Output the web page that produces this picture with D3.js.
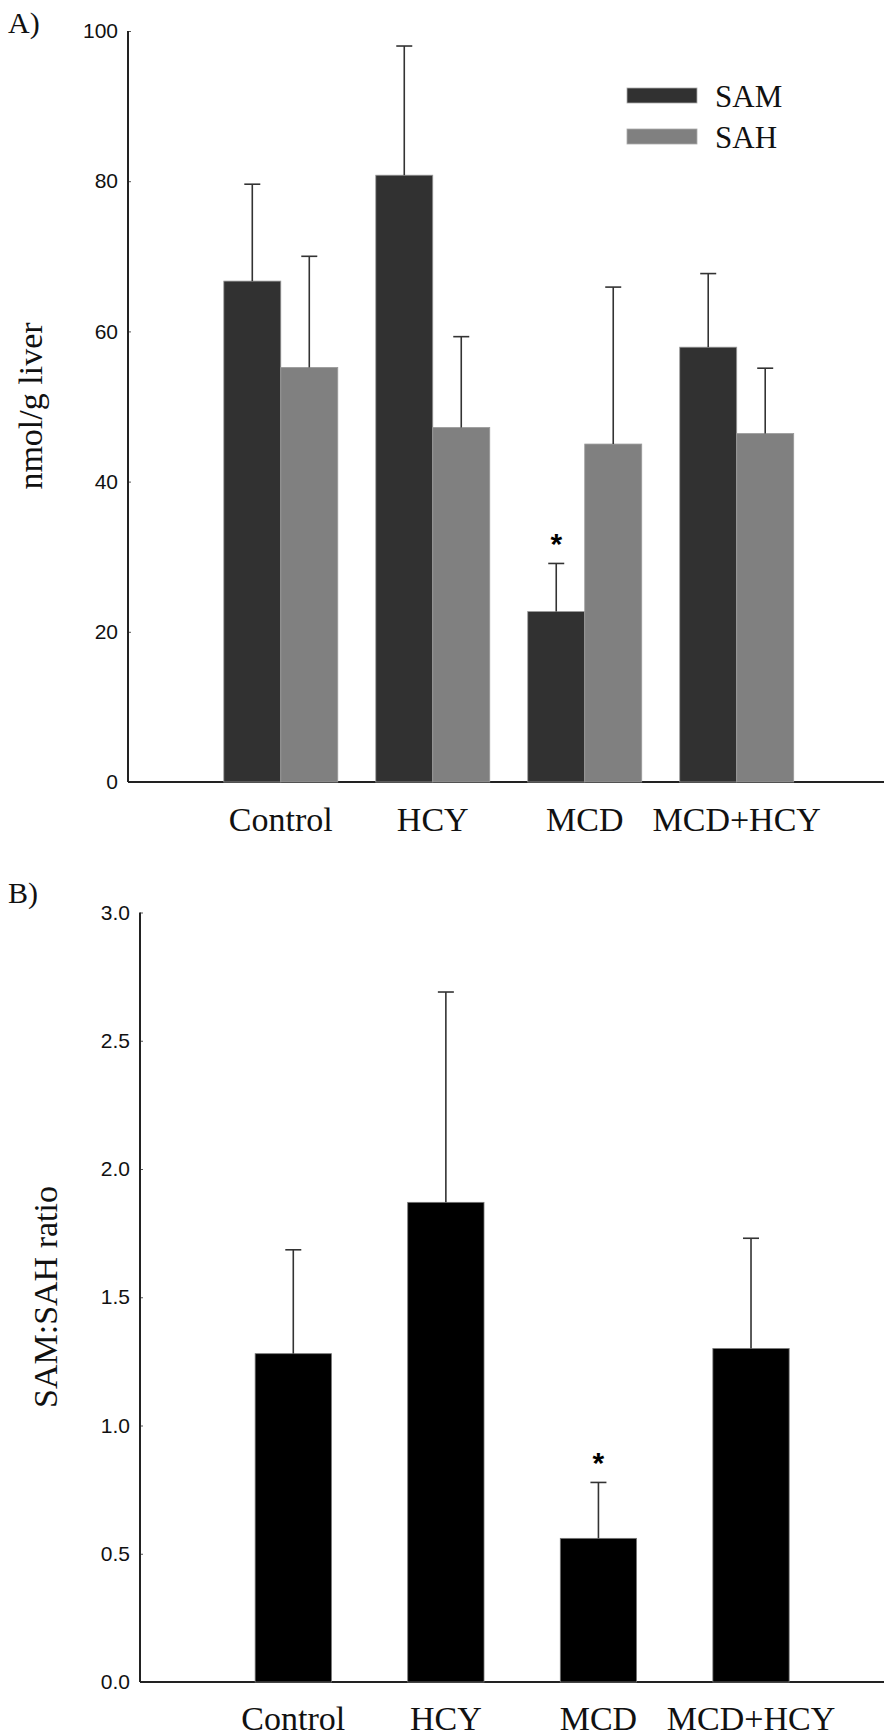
<!DOCTYPE html>
<html>
<head>
<meta charset="utf-8">
<script src="https://cdn.jsdelivr.net/npm/d3@7"></script>
<style>
	body { margin: 0; background: #fff; }
	.tick text { font-family: "Liberation Sans", Arial, sans-serif; font-size: 21px; fill: #111; }
	.serif { font-family: "Liberation Serif", "Times New Roman", serif; fill: #111; }
</style>
</head>
<body>
<div id="chart"></div>
<script>
var groups = ["Control", "HCY", "MCD", "MCD+HCY"];
var series = ["SAM", "SAH"];

// panel A, nmol/g liver
var samMean = [66.7, 80.8, 22.7, 57.9];
var samErr = [12.9, 17.2, 6.4, 9.8];
var sahMean = [55.2, 47.2, 45.0, 46.4];
var sahErr = [14.8, 12.1, 20.9, 8.7];
var ticksA = [0, 20, 40, 60, 80, 100];

// panel B, SAM:SAH ratio
var ratioMean = [1.28, 1.87, 0.56, 1.30];
var ratioErr = [0.405, 0.82, 0.218, 0.43];
var ticksB = [0, 0.5, 1.0, 1.5, 2.0, 2.5, 3.0];

// significant vs control
var starred = ["MCD"];

var colors = {SAM: "#313131", SAH: "#808080"};

var width = 884, height = 1734, capW = 16;

var svg = d3.select("#chart").append("svg")
	.attr("width", width)
	.attr("height", height);

function errorBar(g, cx, yTop, yBar) {
	g.append("line")
		.attr("x1", cx).attr("x2", cx)
		.attr("y1", yBar).attr("y2", yTop)
		.attr("stroke", "#333").attr("stroke-width", 1.6);
	g.append("line")
		.attr("x1", cx - capW / 2).attr("x2", cx + capW / 2)
		.attr("y1", yTop).attr("y2", yTop)
		.attr("stroke", "#333").attr("stroke-width", 1.6);
}

function star(g, cx, yTop) {
	g.append("text")
		.attr("x", cx)
		.attr("y", yTop - 9)
		.attr("text-anchor", "middle")
		.style("font-family", "'Liberation Sans', Arial, sans-serif")
		.style("font-size", "30px")
		.style("font-weight", "bold")
		.text("*");
}

function drawAxes(g, y, ticks, fmt, axisX, yTopPx, y0, label, labelX, labelY, xLabelY, x) {
	g.append("g")
		.attr("transform", "translate(" + axisX + ",0)")
		.call(d3.axisLeft(y).tickValues(ticks).tickFormat(fmt).tickSizeInner(-3).tickSizeOuter(0).tickPadding(10))
		.call(function(a) { a.select(".domain").remove(); })
		.call(function(a) { a.selectAll(".tick line").attr("stroke", "#555"); });

	g.append("line")
		.attr("x1", axisX).attr("x2", axisX)
		.attr("y1", yTopPx).attr("y2", y0)
		.attr("stroke", "#222").attr("stroke-width", 2);
	g.append("line")
		.attr("x1", axisX).attr("x2", width)
		.attr("y1", y0).attr("y2", y0)
		.attr("stroke", "#222").attr("stroke-width", 2);

	g.append("text")
		.attr("class", "serif")
		.attr("transform", "translate(" + labelX + "," + labelY + ") rotate(-90)")
		.attr("text-anchor", "middle")
		.style("font-size", "34px")
		.text(label);

	g.selectAll(".xlab")
		.data(groups)
	  .enter().append("text")
		.attr("class", "serif xlab")
		.attr("x", function(d) { return x(d) + x.bandwidth() / 2; })
		.attr("y", xLabelY)
		.attr("text-anchor", "middle")
		.style("font-size", "34px")
		.text(function(d) { return d; });
}

// ---------- Panel A ----------
var gA = svg.append("g");

var xA = d3.scaleBand().domain(groups).range([204.8, 812.7]).paddingInner(0.25).paddingOuter(0.125),
	xS = d3.scaleBand().domain(series).range([0, xA.bandwidth()]),
	yA = d3.scaleLinear().domain([0, 100]).range([782, 31]);

var rowsA = groups.map(function(g, i) {
	return [
		{group: g, key: "SAM", v: samMean[i], e: samErr[i]},
		{group: g, key: "SAH", v: sahMean[i], e: sahErr[i]}
	];
});

drawAxes(gA, yA, ticksA, d3.format("d"), 128, yA(100), yA(0), "nmol/g liver", 42, 406, 831, xA);

rowsA.forEach(function(row) {
	row.forEach(function(d) {
		var x0 = xA(d.group) + xS(d.key);
		gA.append("rect")
			.attr("x", x0)
			.attr("y", yA(d.v))
			.attr("width", xS.bandwidth())
			.attr("height", yA(0) - yA(d.v))
			.attr("fill", colors[d.key])
			.attr("stroke", "#9a9a9a")
			.attr("stroke-width", 0.8);
		errorBar(gA, x0 + xS.bandwidth() / 2, yA(d.v + d.e), yA(d.v));
		if (d.key == "SAM" && starred.indexOf(d.group) >= 0) star(gA, x0 + xS.bandwidth() / 2, yA(d.v + d.e));
	});
});

// legend
var legend = gA.selectAll(".legend")
	.data(series)
  .enter().append("g")
	.attr("class", "legend")
	.attr("transform", function(d, i) { return "translate(627," + (88 + i * 41) + ")"; });
legend.append("rect")
	.attr("width", 70).attr("height", 15)
	.attr("fill", function(d) { return colors[d]; })
	.attr("stroke", "#aaa").attr("stroke-width", 0.8);
legend.append("text")
	.attr("class", "serif")
	.attr("x", 88).attr("y", 19)
	.style("font-size", "31px")
	.text(function(d) { return d; });

gA.append("text")
	.attr("class", "serif")
	.attr("x", 8).attr("y", 33)
	.style("font-size", "30px")
	.text("A)");

// ---------- Panel B ----------
var gB = svg.append("g");

var xB = d3.scaleBand().domain(groups).range([217, 827.3]).paddingInner(0.5).paddingOuter(0.25),
	yB = d3.scaleLinear().domain([0, 3]).range([1682, 912.5]);

drawAxes(gB, yB, ticksB, d3.format(".1f"), 140, yB(3), yB(0), "SAM:SAH ratio", 57, 1297, 1730, xB);

gB.selectAll(".bar")
	.data(groups)
  .enter().append("rect")
	.attr("class", "bar")
	.attr("x", function(d) { return xB(d); })
	.attr("y", function(d, i) { return yB(ratioMean[i]); })
	.attr("width", xB.bandwidth())
	.attr("height", function(d, i) { return yB(0) - yB(ratioMean[i]); })
	.attr("fill", "#000")
	.attr("stroke", "#777")
	.attr("stroke-width", 0.8);

groups.forEach(function(g, i) {
	var cx = xB(g) + xB.bandwidth() / 2;
	errorBar(gB, cx, yB(ratioMean[i] + ratioErr[i]), yB(ratioMean[i]));
	if (starred.indexOf(g) >= 0) star(gB, cx, yB(ratioMean[i] + ratioErr[i]));
});

gB.append("text")
	.attr("class", "serif")
	.attr("x", 8).attr("y", 903)
	.style("font-size", "30px")
	.text("B)");
</script>
</body>
</html>
